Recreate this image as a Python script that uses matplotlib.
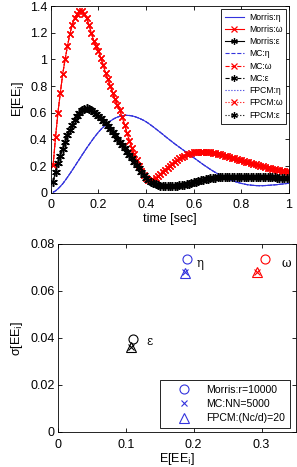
import numpy as np
import matplotlib
matplotlib.use('Agg')
import matplotlib.pyplot as plt

plt.rcParams['font.family'] = ['Liberation Sans', 'DejaVu Sans']
plt.rcParams['xtick.direction'] = 'in'
plt.rcParams['ytick.direction'] = 'in'

# time axis (sec)
t = np.arange(1, 101) / 100.0

# mean elementary effect of eta (blue)
ee_eta = [0.005, 0.015, 0.03, 0.048, 0.068, 0.092, 0.117, 0.143, 0.17, 0.197,
          0.225, 0.252, 0.28, 0.307, 0.334, 0.36, 0.385, 0.41, 0.433, 0.455,
          0.475, 0.493, 0.51, 0.525, 0.538, 0.55, 0.56, 0.568, 0.574, 0.578,
          0.58, 0.581, 0.58, 0.577, 0.573, 0.567, 0.56, 0.552, 0.543, 0.533,
          0.521, 0.508, 0.495, 0.481, 0.467, 0.453, 0.439, 0.424, 0.41, 0.396,
          0.382, 0.368, 0.355, 0.342, 0.329, 0.316, 0.303, 0.29, 0.277, 0.264,
          0.251, 0.238, 0.225, 0.212, 0.2, 0.188, 0.176, 0.165, 0.154, 0.144,
          0.134, 0.125, 0.116, 0.108, 0.1, 0.093, 0.087, 0.081, 0.076, 0.071,
          0.067, 0.063, 0.06, 0.058, 0.056, 0.055, 0.054, 0.054, 0.054, 0.055,
          0.056, 0.057, 0.059, 0.06, 0.062, 0.064, 0.066, 0.068, 0.07, 0.072]

# mean elementary effect of omega (red)
ee_omega = [0.21, 0.42, 0.6, 0.75, 0.89, 1.0, 1.1, 1.19, 1.26, 1.31,
            1.34, 1.36, 1.36, 1.34, 1.31, 1.26, 1.2, 1.14, 1.1, 1.06,
            1.01, 0.96, 0.9, 0.85, 0.8, 0.75, 0.7, 0.66, 0.62, 0.565,
            0.51, 0.45, 0.39, 0.34, 0.29, 0.245, 0.2, 0.165, 0.135, 0.11,
            0.1, 0.095, 0.1, 0.11, 0.125, 0.14, 0.16, 0.175, 0.19, 0.205,
            0.22, 0.235, 0.248, 0.26, 0.27, 0.28, 0.288, 0.295, 0.3, 0.305,
            0.308, 0.31, 0.31, 0.31, 0.308, 0.306, 0.303, 0.3, 0.296, 0.292,
            0.288, 0.284, 0.28, 0.275, 0.27, 0.265, 0.26, 0.255, 0.25, 0.245,
            0.24, 0.235, 0.23, 0.225, 0.22, 0.215, 0.21, 0.205, 0.2, 0.195,
            0.19, 0.186, 0.182, 0.178, 0.174, 0.17, 0.167, 0.164, 0.161, 0.158]

# mean elementary effect of epsilon (black)
ee_eps = [0.085, 0.16, 0.225, 0.28, 0.33, 0.38, 0.43, 0.47, 0.51, 0.545,
          0.575, 0.6, 0.62, 0.632, 0.635, 0.63, 0.62, 0.605, 0.59, 0.575,
          0.558, 0.54, 0.52, 0.5, 0.478, 0.455, 0.43, 0.405, 0.385, 0.36,
          0.335, 0.31, 0.285, 0.26, 0.235, 0.21, 0.185, 0.16, 0.135, 0.115,
          0.098, 0.083, 0.072, 0.064, 0.058, 0.055, 0.053, 0.052, 0.052, 0.052,
          0.052, 0.053, 0.054, 0.056, 0.058, 0.061, 0.065, 0.07, 0.075, 0.08,
          0.085, 0.09, 0.095, 0.1, 0.104, 0.107, 0.11, 0.113, 0.115, 0.117,
          0.118, 0.119, 0.12, 0.12, 0.12, 0.12, 0.12, 0.12, 0.12, 0.12,
          0.12, 0.12, 0.12, 0.12, 0.12, 0.12, 0.119, 0.119, 0.118, 0.118,
          0.117, 0.117, 0.116, 0.116, 0.115, 0.115, 0.114, 0.114, 0.113, 0.113]

# sigma vs mean of EE (time averaged)
params = ['η', 'ω', 'ε']
colors = ['#3333dd', 'red', 'black']
morris_mu = [0.19, 0.305, 0.111]
morris_sig = [0.0735, 0.0735, 0.0395]
mc_mu = [0.187, 0.294, 0.108]
mc_sig = [0.068, 0.068, 0.0363]
fpcm_mu = [0.187, 0.294, 0.108]
fpcm_sig = [0.0675, 0.0678, 0.036]
label_x = [0.205, 0.33, 0.13]
label_y = [0.0715, 0.0715, 0.0383]

fig = plt.figure(figsize=(2.97, 4.67), dpi=100)

# ---- top: E[EE] over time
ax1 = fig.add_axes([0.171, 0.587, 0.802, 0.400])
star = (6, 2, 0)
ax1.plot(t, ee_eta, '-', color='#3333dd', lw=0.8, label='Morris:η')
ax1.plot(t, ee_omega, '-', color='red', lw=0.8, marker='x', ms=5, mew=0.9, label='Morris:ω')
ax1.plot(t, ee_eps, '-', color='black', lw=0.8, marker=star, ms=6, mew=0.9, label='Morris:ε')
ax1.plot(t, ee_eta, '--', color='#3333dd', lw=0.8, label='MC:η')
ax1.plot(t, ee_omega, '--', color='red', lw=0.8, marker='x', ms=5, mew=0.9, label='MC:ω')
ax1.plot(t, ee_eps, '--', color='black', lw=0.8, marker=star, ms=6, mew=0.9, label='MC:ε')
ax1.plot(t, ee_eta, ':', color='#3333dd', lw=0.8, label='FPCM:η')
ax1.plot(t, ee_omega, ':', color='red', lw=0.8, marker='x', ms=5, mew=0.9, label='FPCM:ω')
ax1.plot(t, ee_eps, ':', color='black', lw=0.8, marker=star, ms=6, mew=0.9, label='FPCM:ε')
ax1.set_xlim(0, 1)
ax1.set_ylim(0, 1.4)
ax1.set_xticks([0, 0.2, 0.4, 0.6, 0.8, 1])
ax1.set_xticklabels(['0', '0.2', '0.4', '0.6', '0.8', '1'])
ax1.set_yticks([0, 0.2, 0.4, 0.6, 0.8, 1, 1.2, 1.4])
ax1.set_yticklabels(['0', '0.2', '0.4', '0.6', '0.8', '1', '1.2', '1.4'])
ax1.tick_params(labelsize=9, top=True, right=True, length=3, width=0.6)
ax1.tick_params(axis='x', pad=4.5)
ax1.tick_params(axis='y', pad=2.5)
ax1.set_xlabel('time [sec]', fontsize=9, labelpad=1)
ax1.set_ylabel('E[EE$_{\\rm i}$]', fontsize=9, labelpad=3)
leg = ax1.legend(loc='upper right', fontsize=6.2, handlelength=2.2, labelspacing=0.38,
                 borderpad=0.45, handletextpad=0.6, fancybox=False, edgecolor='black',
                 framealpha=1, markerscale=0.8, borderaxespad=0.3)
leg.get_frame().set_linewidth(0.6)

# ---- bottom: sigma vs mean
ax2 = fig.add_axes([0.195, 0.075, 0.80, 0.403])
for i in range(3):
    ax2.plot(morris_mu[i], morris_sig[i], 'o', mfc='none', mec=colors[i], ms=6.5, mew=0.8)
    ax2.plot(mc_mu[i], mc_sig[i], 'x', color=colors[i], ms=4, mew=0.8)
    ax2.plot(fpcm_mu[i], fpcm_sig[i], '^', mfc='none', mec=colors[i], ms=6.5, mew=0.8)
    ax2.text(label_x[i], label_y[i], params[i], fontsize=8.5, family='DejaVu Serif',
             va='center', ha='left')
ax2.plot([], [], 'o', mfc='none', mec='#3333dd', ms=6.5, mew=0.8, label='Morris:r=10000')
ax2.plot([], [], 'x', color='#3333dd', ms=4, mew=0.8, label='MC:NN=5000')
ax2.plot([], [], '^', mfc='none', mec='#3333dd', ms=6.5, mew=0.8, label='FPCM:(Nc/d)=20')
ax2.set_xlim(0, 0.35)
ax2.set_ylim(0, 0.08)
ax2.set_xticks([0, 0.1, 0.2, 0.3])
ax2.set_xticklabels(['0', '0.1', '0.2', '0.3'])
ax2.set_yticks([0, 0.02, 0.04, 0.06, 0.08])
ax2.set_yticklabels(['0', '0.02', '0.04', '0.06', '0.08'])
ax2.tick_params(labelsize=9, top=True, right=True, length=3, width=0.6)
ax2.tick_params(axis='x', pad=5)
ax2.tick_params(axis='y', pad=2.5)
ax2.set_xlabel('E[EE$_{\\rm i}$]', fontsize=9, labelpad=0)
ax2.set_ylabel('σ[EE$_{\\rm i}$]', fontsize=9, labelpad=4)
leg2 = ax2.legend(loc='lower right', fontsize=7.6, handlelength=3.6, labelspacing=0.42,
                  borderpad=0.45, handletextpad=0.3, fancybox=False, edgecolor='black',
                  framealpha=1, bbox_to_anchor=(0.975, 0.02), borderaxespad=0)
leg2.get_frame().set_linewidth(0.6)

for ax in (ax1, ax2):
    for s in ax.spines.values():
        s.set_linewidth(0.6)

fig.savefig('out.png', dpi=100)
